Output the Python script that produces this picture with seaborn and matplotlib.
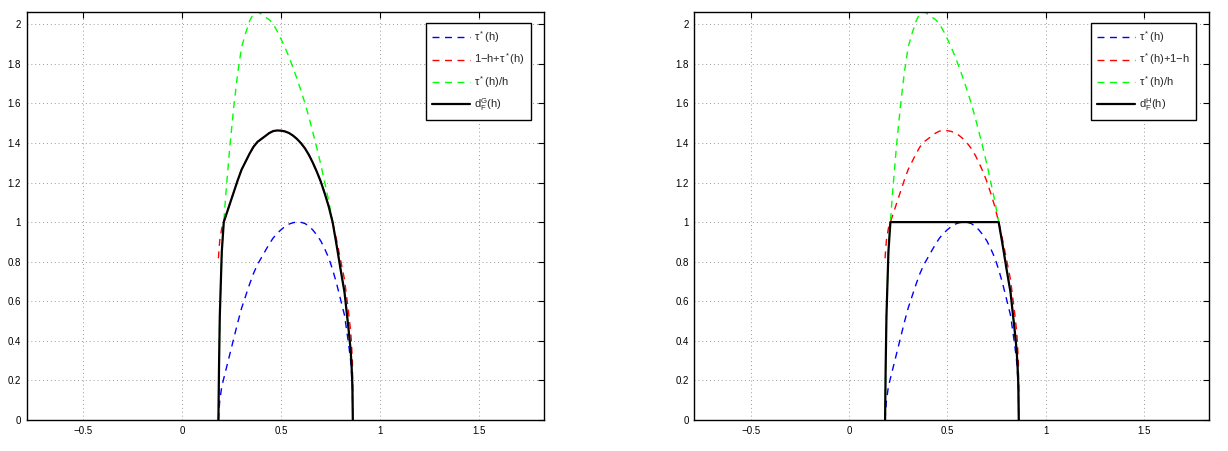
import numpy as np
import pandas as pd
import matplotlib
matplotlib.use("Agg")
import matplotlib.pyplot as plt
import seaborn as sns

# Values: the Legendre spectrum tau*(h)
h_vals = [0.183, 0.186, 0.19, 0.20, 0.21, 0.22, 0.24, 0.26, 0.28, 0.30, 0.32, 0.34,
          0.36, 0.38, 0.40, 0.42, 0.44, 0.46, 0.48, 0.50, 0.52, 0.54, 0.56, 0.58,
          0.60, 0.62, 0.64, 0.66, 0.68, 0.70, 0.72, 0.74, 0.76, 0.78, 0.80, 0.82,
          0.84, 0.85, 0.855, 0.86, 0.862]
tau_vals = [0.0, 0.05, 0.10, 0.17, 0.21, 0.25, 0.33, 0.41, 0.49, 0.565, 0.625, 0.685,
            0.74, 0.785, 0.82, 0.855, 0.89, 0.92, 0.943, 0.962, 0.978, 0.99, 0.997, 1.0,
            0.999, 0.993, 0.98, 0.96, 0.935, 0.905, 0.865, 0.82, 0.76, 0.69, 0.61, 0.53,
            0.39, 0.31, 0.25, 0.15, 0.0]

left_labels = ["\u03c4$^*$(h)", "1\u2212h+\u03c4$^*$(h)",
               "\u03c4$^*$(h)/h", "d$_F^G$(h)"]
right_labels = ["\u03c4$^*$(h)", "\u03c4$^*$(h)+1\u2212h",
                "\u03c4$^*$(h)/h", "d$_F^H$(h)"]
x_ticks = [-0.5, 0, 0.5, 1, 1.5]
x_ticklabels = ["\u22120.5", "0", "0.5", "1", "1.5"]
y_ticks = [0, 0.2, 0.4, 0.6, 0.8, 1, 1.2, 1.4, 1.6, 1.8, 2]
y_ticklabels = ["0", "0.2", "0.4", "0.6", "0.8", "1", "1.2", "1.4", "1.6", "1.8", "2"]

h = np.array(h_vals)
tau = np.array(tau_vals)
red = 1 - h + tau              # 1 - h + tau*(h)
green = tau / h                # tau*(h)/h
black_left = np.minimum(red, green)          # d_F^G
black_right = np.minimum(1.0, green)         # d_F^H

sns.set_theme(style="white")
plt.rcParams["font.family"] = ["Liberation Sans", "DejaVu Sans"]
plt.rcParams["mathtext.fontset"] = "custom"
plt.rcParams["mathtext.rm"] = "Liberation Sans"
plt.rcParams["mathtext.it"] = "Liberation Sans"

fig = plt.figure(figsize=(12.28, 4.51), dpi=100)
axL = fig.add_axes([0.0217, 0.0687, 0.4216, 0.904])
axR = fig.add_axes([0.5654, 0.0687, 0.4194, 0.904])


def draw(ax, black, labels):
    series = [(tau, "#0000ff", (0, (5, 4)), 1.0),
              (red, "#ff0000", (0, (5, 4)), 1.0),
              (green, "#00ff00", (0, (5, 4)), 1.0),
              (black, "#000000", "-", 1.6)]
    handles = []
    for (vals, col, ls, lw), lab in zip(series, labels):
        df = pd.DataFrame({"h": h, "v": vals})
        sns.lineplot(data=df, x="h", y="v", sort=False, estimator=None, ax=ax,
                     color=col, linewidth=lw, label=lab)
        ln = ax.get_lines()[-1]
        ln.set_linestyle(ls)
        handles.append(ln)
    ax.set_xlim(-0.786, 1.83)
    ax.set_ylim(0, 2.06)
    ax.set_xticks(x_ticks)
    ax.set_xticklabels(x_ticklabels)
    ax.set_yticks(y_ticks)
    ax.set_yticklabels(y_ticklabels)
    ax.set_xlabel("")
    ax.set_ylabel("")
    ax.grid(True, linestyle=(0, (1, 3)), color="#999999", linewidth=0.7)
    ax.tick_params(direction="in", length=4, width=0.8, top=True, right=True,
                   labelsize=7, colors="black", pad=4)
    for s in ax.spines.values():
        s.set_visible(True)
        s.set_color("black")
        s.set_linewidth(1.0)
    leg = ax.legend(handles=handles, labels=labels, loc="upper right",
                    bbox_to_anchor=(0.974, 0.975), fontsize=8, frameon=True,
                    fancybox=False, edgecolor="black", framealpha=1,
                    handlelength=3.4, handletextpad=0.3, labelspacing=0.6,
                    borderpad=0.6, borderaxespad=0)
    leg.get_frame().set_linewidth(1.0)


draw(axL, black_left, left_labels)
draw(axR, black_right, right_labels)

fig.savefig("out.png", dpi=100)
